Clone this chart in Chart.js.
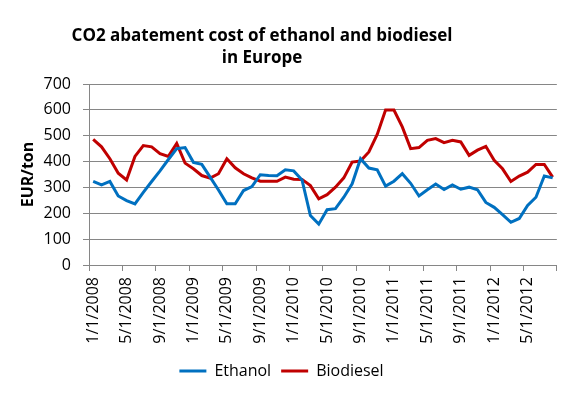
<!DOCTYPE html>
<html>
<head>
<meta charset="utf-8">
<script src="https://cdn.jsdelivr.net/npm/chart.js@4"></script>
<style>
  html, body { margin: 0; padding: 0; background: #fff; }
</style>
</head>
<body>
<canvas id="chart" width="578" height="395"></canvas>
<script>
/* Data */
const titleLines = ['CO2 abatement cost of ethanol and biodiesel', 'in Europe'];
const yTitle = 'EUR/ton';
const yTicks = [0, 100, 200, 300, 400, 500, 600, 700];

// monthly categories Jan 2008 .. Aug 2012
const months = [];
for (let y = 2008; y <= 2012; y++) {
    for (let m = 1; m <= 12; m++) {
        if (y === 2012 && m > 8) break;
        months.push(m + '/1/' + y);
    }
}

const ethanol = [323, 310, 323, 267, 249, 236, 281, 323, 364, 408, 450, 454,
                 397, 389, 340, 290, 237, 237, 288, 303, 349, 346, 345, 368,
                 364, 329, 191, 158, 214, 218, 262, 314, 411, 375, 368, 305,
                 324, 353, 316, 267, 291, 313, 292, 310, 293, 301, 291, 242,
                 223, 195, 165, 180, 230, 262, 344, 337];

const biodiesel = [486, 457, 411, 355, 329, 420, 462, 457, 431, 420, 470, 394,
                   372, 346, 336, 353, 411, 376, 353, 337, 324, 324, 324, 340,
                   332, 331, 307, 256, 272, 301, 337, 398, 402, 437, 505, 599,
                   599, 534, 450, 454, 482, 489, 473, 482, 476, 424, 444, 459,
                   405, 372, 323, 344, 359, 389, 389, 340];

const FONT = "'Open Sans', sans-serif";
const GRID = '#868686';

/* draw the two line title, centred over the plot like the original */
const titlePlugin = {
    id: 'twoLineTitle',
    afterDraw(chart) {
        const c = chart.ctx;
        c.save();
        c.font = "bold 17px " + FONT;
        c.fillStyle = '#000';
        c.textAlign = 'center';
        c.fillText(titleLines[0], 262, 36);
        c.fillText(titleLines[1], 262, 58);
        c.restore();
    }
};

let ctx = document.getElementById('chart');
let chart = new Chart(ctx, {
    type: 'line',
    data: {
        labels: months,
        datasets: [{
            label: 'Ethanol',
            data: ethanol,
            borderColor: '#0070C0',
            backgroundColor: '#0070C0',
            borderWidth: 3,
            pointRadius: 0,
            tension: 0
        }, {
            label: 'Biodiesel',
            data: biodiesel,
            borderColor: '#C00000',
            backgroundColor: '#C00000',
            borderWidth: 3,
            pointRadius: 0,
            tension: 0
        }]
    },
    options: {
        responsive: false,
        animation: false,
        layout: {
            padding: { top: 84, right: 15, left: 0, bottom: 6 }
        },
        plugins: {
            title: { display: false },
            tooltip: { enabled: false },
            legend: {
                position: 'bottom',
                labels: {
                    usePointStyle: true,
                    pointStyle: 'line',
                    pointStyleWidth: 27,
                    color: '#000',
                    padding: 10,
                    font: { family: FONT, size: 16 }
                }
            }
        },
        scales: {
            x: {
                offset: true,
                grid: {
                    offset: true,
                    drawOnChartArea: false,
                    tickLength: 6,
                    color: c => (c.index === undefined || c.index % 4 === 0) ? GRID : 'rgba(0,0,0,0)'
                },
                border: { display: true, color: GRID, width: 1 },
                ticks: {
                    autoSkip: false,
                    maxRotation: 90,
                    minRotation: 90,
                    padding: 6,
                    color: '#000',
                    font: { family: FONT, size: 16 },
                    callback: function (v, i) { return i % 4 === 0 ? months[i] : ''; }
                },
                afterFit: s => { s.height = 88; }
            },
            y: {
                min: 0,
                max: 700,
                afterBuildTicks: s => { s.ticks = yTicks.map(v => ({ value: v })); },
                grid: { color: GRID, tickLength: 6 },
                border: { display: true, color: GRID, width: 1 },
                ticks: {
                    padding: 12,
                    color: '#000',
                    font: { family: FONT, size: 16 }
                },
                title: {
                    display: true,
                    text: yTitle,
                    color: '#000',
                    padding: { top: 19, bottom: 0 },
                    font: { family: FONT, size: 16, weight: 'bold' }
                },
                afterFit: s => { s.width = 89; }
            }
        }
    },
    plugins: [titlePlugin]
});
</script>
</body>
</html>
